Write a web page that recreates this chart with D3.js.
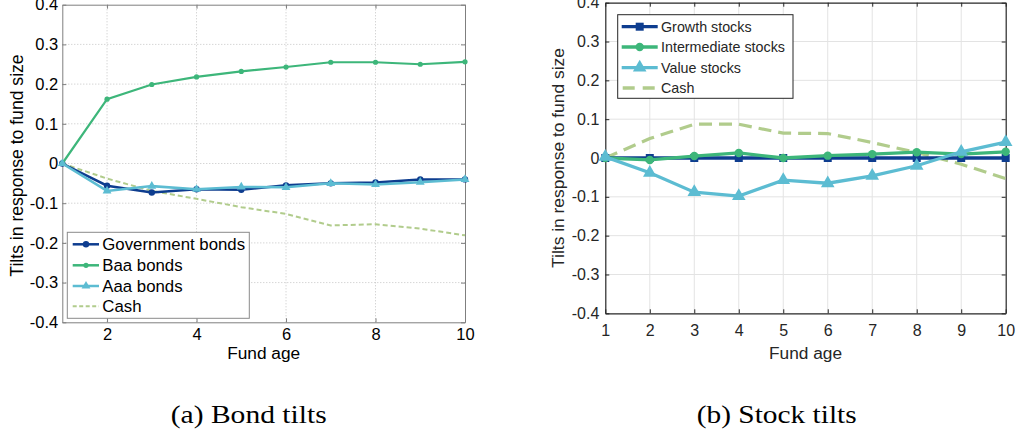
<!DOCTYPE html>
<html><head><meta charset="utf-8">
<script src="https://cdn.jsdelivr.net/npm/d3@7"></script>
<style>body{margin:0;background:#fff}svg{display:block}</style>
</head><body>
<svg id="c" width="1017" height="437"></svg>
<script>
const ages = [1,2,3,4,5,6,7,8,9,10];
const govBonds = [0,-0.056,-0.073,-0.065,-0.066,-0.055,-0.050,-0.048,-0.040,-0.040];
const baaBonds = [0,0.162,0.199,0.218,0.232,0.243,0.255,0.255,0.250,0.256];
const aaaBonds = [0,-0.069,-0.057,-0.065,-0.059,-0.060,-0.050,-0.053,-0.047,-0.040];
const cashBond = [0,-0.038,-0.069,-0.089,-0.110,-0.127,-0.156,-0.153,-0.164,-0.181];
const growthStocks = [0,0,0,0,0,0,0,0,0,0];
const intermediateStocks = [0,-0.005,0.005,0.013,0,0.006,0.010,0.015,0.010,0.016];
const valueStocks = [0.003,-0.038,-0.088,-0.098,-0.057,-0.065,-0.046,-0.020,0.016,0.041];
const cashStock = [0,0.050,0.087,0.087,0.064,0.063,0.040,0.014,-0.016,-0.053];
const yTicks = [-0.4,-0.3,-0.2,-0.1,0,0.1,0.2,0.3,0.4];
const xTicksBond = [2,4,6,8,10];
const xTicksStock = [1,2,3,4,5,6,7,8,9,10];
const legendBond = ["Government bonds","Baa bonds","Aaa bonds","Cash"];
const legendStock = ["Growth stocks","Intermediate stocks","Value stocks","Cash"];
const captions = ["(a) Bond tilts","(b) Stock tilts"];
const yLabel = "Tilts in response to fund size";
const xLabel = "Fund age";

const NAVY="#0e3d8f", GREEN="#3db67a", LBLUE="#5cbcd2", OLIVE="#b1cc8c";
const FONT="'Liberation Sans', Arial, sans-serif";
const svg = d3.select("#c");
const fmt = d => d===0 ? "0" : d3.format(".1f")(d).replace("\u2212","-");

function tri(size){ return d3.symbol().type(d3.symbolTriangle).size(size)(); }

// ---------- Panel A ----------
(function(){
  const x = d3.scaleLinear().domain([1,10]).range([62.3,465]);
  const y = d3.scaleLinear().domain([-0.4,0.4]).range([322.3,4.7]);
  const g = svg.append("g");
  const FR="#7f7f7f";
  g.append("g").selectAll("line").data(yTicks.slice(1,-1)).join("line")
    .attr("x1",x(1)).attr("x2",x(10)).attr("y1",d=>y(d)).attr("y2",d=>y(d))
    .attr("stroke","#c4c4c4").attr("stroke-width",1).attr("stroke-dasharray","1,2");
  g.append("g").selectAll("line").data(xTicksBond.filter(d=>d<10)).join("line")
    .attr("y1",y(-0.4)).attr("y2",y(0.4)).attr("x1",d=>x(d)).attr("x2",d=>x(d))
    .attr("stroke","#c4c4c4").attr("stroke-width",1).attr("stroke-dasharray","1,2");
  const ax = g.append("g").attr("transform",`translate(0,${y(-0.4)})`)
    .call(d3.axisBottom(x).tickValues(xTicksBond).tickSizeInner(-4).tickSizeOuter(0).tickPadding(6).tickFormat(d3.format("d")));
  const ay = g.append("g").attr("transform",`translate(${x(1)},0)`)
    .call(d3.axisLeft(y).tickValues(yTicks).tickSizeInner(-4).tickSizeOuter(0).tickPadding(4).tickFormat(fmt));
  const at = g.append("g").attr("transform",`translate(0,${y(0.4)})`)
    .call(d3.axisTop(x).tickValues(xTicksBond).tickSizeInner(-4).tickSizeOuter(0).tickFormat(""));
  const ar = g.append("g").attr("transform",`translate(${x(10)},0)`)
    .call(d3.axisRight(y).tickValues(yTicks).tickSizeInner(-4).tickSizeOuter(0).tickFormat(""));
  [ax,ay,at,ar].forEach(a=>{
    a.selectAll("path").attr("stroke",FR).attr("stroke-width",1);
    a.selectAll("line").attr("stroke",FR);
    a.selectAll("text").attr("fill","#000").style("font-family",FONT).style("font-size","16.5px");
  });
  g.append("text").attr("x",(x(1)+x(10))/2).attr("y",359).attr("text-anchor","middle")
    .style("font-family",FONT).style("font-size","17.3px").text(xLabel);
  g.append("text").attr("transform",`translate(23,${(y(-0.4)+y(0.4))/2 + 2}) rotate(-90)`).attr("text-anchor","middle")
    .style("font-family",FONT).style("font-size","17.6px").text(yLabel);
  const line = d3.line().x((d,i)=>x(ages[i])).y(d=>y(d));
  g.append("path").datum(cashBond).attr("d",line).attr("fill","none").attr("stroke",OLIVE).attr("stroke-width",2).attr("stroke-dasharray","5,3");
  g.append("path").datum(govBonds).attr("d",line).attr("fill","none").attr("stroke",NAVY).attr("stroke-width",2.5);
  g.selectAll(".gm").data(govBonds).join("circle").attr("cx",(d,i)=>x(ages[i])).attr("cy",d=>y(d)).attr("r",3.2).attr("fill",NAVY);
  g.append("path").datum(baaBonds).attr("d",line).attr("fill","none").attr("stroke",GREEN).attr("stroke-width",2.2);
  g.selectAll(".bm").data(baaBonds).join("circle").attr("cx",(d,i)=>x(ages[i])).attr("cy",d=>y(d)).attr("r",2.6).attr("fill",GREEN);
  g.append("path").datum(aaaBonds).attr("d",line).attr("fill","none").attr("stroke",LBLUE).attr("stroke-width",2.5);
  g.selectAll(".am").data(aaaBonds).join("path").attr("d",tri(34)).attr("transform",(d,i)=>`translate(${x(ages[i])},${y(d)})`).attr("fill",LBLUE);
  const lg = g.append("g");
  lg.append("rect").attr("x",67.3).attr("y",232.3).attr("width",182).attr("height",86).attr("fill","#fff").attr("stroke","#8a8a8a").attr("stroke-width",1);
  const ly = [244.3,265.3,286,306.3];
  const cols=[NAVY,GREEN,LBLUE,OLIVE];
  legendBond.forEach((t,i)=>{
    const l = lg.append("line").attr("x1",72.7).attr("x2",99).attr("y1",ly[i]).attr("y2",ly[i]).attr("stroke",cols[i]).attr("stroke-width",i==3?2:2.5);
    if(i==3) l.attr("stroke-dasharray","4,2.5");
    if(i==0) lg.append("circle").attr("cx",86).attr("cy",ly[i]).attr("r",3.2).attr("fill",NAVY);
    if(i==1) lg.append("circle").attr("cx",86).attr("cy",ly[i]).attr("r",2.6).attr("fill",GREEN);
    if(i==2) lg.append("path").attr("d",tri(34)).attr("transform",`translate(86,${ly[i]})`).attr("fill",LBLUE);
    lg.append("text").attr("x",102.3).attr("y",ly[i]).attr("dy","0.36em").style("font-family",FONT).style("font-size","16.8px").text(t);
  });
})();

// ---------- Panel B ----------
(function(){
  const x = d3.scaleLinear().domain([1,10]).range([605.3,1005.7]);
  const y = d3.scaleLinear().domain([-0.4,0.4]).range([313.3,2.7]);
  const g = svg.append("g");
  const FR="#262626";
  g.append("g").selectAll("line").data(yTicks.slice(1,-1)).join("line")
    .attr("x1",x(1)).attr("x2",x(10)).attr("y1",d=>y(d)).attr("y2",d=>y(d))
    .attr("stroke","#e3e3e3").attr("stroke-width",1);
  g.append("g").selectAll("line").data(xTicksStock.slice(1,-1)).join("line")
    .attr("y1",y(-0.4)).attr("y2",y(0.4)).attr("x1",d=>x(d)).attr("x2",d=>x(d))
    .attr("stroke","#e3e3e3").attr("stroke-width",1);
  const ax = g.append("g").attr("transform",`translate(0,${y(-0.4)})`)
    .call(d3.axisBottom(x).tickValues(xTicksStock).tickSizeInner(-4).tickSizeOuter(0).tickPadding(11).tickFormat(d3.format("d")));
  const ay = g.append("g").attr("transform",`translate(${x(1)},0)`)
    .call(d3.axisLeft(y).tickValues(yTicks).tickSizeInner(-4).tickSizeOuter(0).tickPadding(6).tickFormat(fmt));
  const at = g.append("g").attr("transform",`translate(0,${y(0.4)})`)
    .call(d3.axisTop(x).tickValues(xTicksStock).tickSizeInner(-4).tickSizeOuter(0).tickFormat(""));
  const ar = g.append("g").attr("transform",`translate(${x(10)},0)`)
    .call(d3.axisRight(y).tickValues(yTicks).tickSizeInner(-4).tickSizeOuter(0).tickFormat(""));
  [ax,ay,at,ar].forEach(a=>{
    a.selectAll("path").attr("stroke",FR).attr("stroke-width",1.2);
    a.selectAll("line").attr("stroke",FR);
    a.selectAll("text").attr("fill","#262626").style("font-family",FONT).style("font-size","16px");
  });
  g.append("text").attr("x",(x(1)+x(10))/2).attr("y",359).attr("text-anchor","middle").attr("fill","#262626")
    .style("font-family",FONT).style("font-size","17.3px").text(xLabel);
  g.append("text").attr("transform",`translate(564,${(y(-0.4)+y(0.4))/2}) rotate(-90)`).attr("text-anchor","middle").attr("fill","#262626")
    .style("font-family",FONT).style("font-size","17.4px").text(yLabel);
  const line = d3.line().x((d,i)=>x(ages[i])).y(d=>y(d));
  g.append("path").datum(cashStock).attr("d",line).attr("fill","none").attr("stroke",OLIVE).attr("stroke-width",3.2).attr("stroke-dasharray","13,7");
  g.append("path").datum(growthStocks).attr("d",line).attr("fill","none").attr("stroke",NAVY).attr("stroke-width",3.3);
  g.selectAll(".gs").data(growthStocks).join("rect").attr("x",(d,i)=>x(ages[i])-4).attr("y",d=>y(d)-4).attr("width",8).attr("height",8).attr("fill",NAVY);
  g.append("path").datum(intermediateStocks).attr("d",line).attr("fill","none").attr("stroke",GREEN).attr("stroke-width",3.3);
  g.selectAll(".is").data(intermediateStocks).join("circle").attr("cx",(d,i)=>x(ages[i])).attr("cy",d=>y(d)).attr("r",4.2).attr("fill",GREEN);
  g.append("path").datum(valueStocks).attr("d",line).attr("fill","none").attr("stroke",LBLUE).attr("stroke-width",3.3);
  g.selectAll(".vs").data(valueStocks).join("path").attr("d",tri(80)).attr("transform",(d,i)=>`translate(${x(ages[i])},${y(d)})`).attr("fill",LBLUE);
  const lg = g.append("g");
  lg.append("rect").attr("x",617.7).attr("y",14.7).attr("width",175.3).attr("height",83.6).attr("fill","#fff").attr("stroke","#262626").attr("stroke-width",1);
  const ly=[26.7,47,67.7,88];
  const cols=[NAVY,GREEN,LBLUE,OLIVE];
  legendStock.forEach((t,i)=>{
    const l = lg.append("line").attr("x1",621.7).attr("x2",657.7).attr("y1",ly[i]).attr("y2",ly[i]).attr("stroke",cols[i]).attr("stroke-width",3.3);
    if(i==3) l.attr("stroke-dasharray","12,8").attr("x1",622.7);
    if(i==0) lg.append("rect").attr("x",639.7-4).attr("y",ly[i]-4).attr("width",8).attr("height",8).attr("fill",NAVY);
    if(i==1) lg.append("circle").attr("cx",639.7).attr("cy",ly[i]).attr("r",4.2).attr("fill",GREEN);
    if(i==2) lg.append("path").attr("d",tri(80)).attr("transform",`translate(639.7,${ly[i]})`).attr("fill",LBLUE);
    lg.append("text").attr("x",661).attr("y",ly[i]).attr("dy","0.36em").attr("fill","#262626").style("font-family",FONT).style("font-size","14.3px").text(t);
  });
})();

[[248.7,156],[776.7,160]].forEach((c,i)=>{
  svg.append("text").attr("x",c[0]).attr("y",423).attr("text-anchor","middle")
    .attr("textLength",c[1]).attr("lengthAdjust","spacingAndGlyphs")
    .style("font-family","'Liberation Serif','Times New Roman',serif").style("font-size","26px").text(captions[i]);
});
</script>
</body></html>
